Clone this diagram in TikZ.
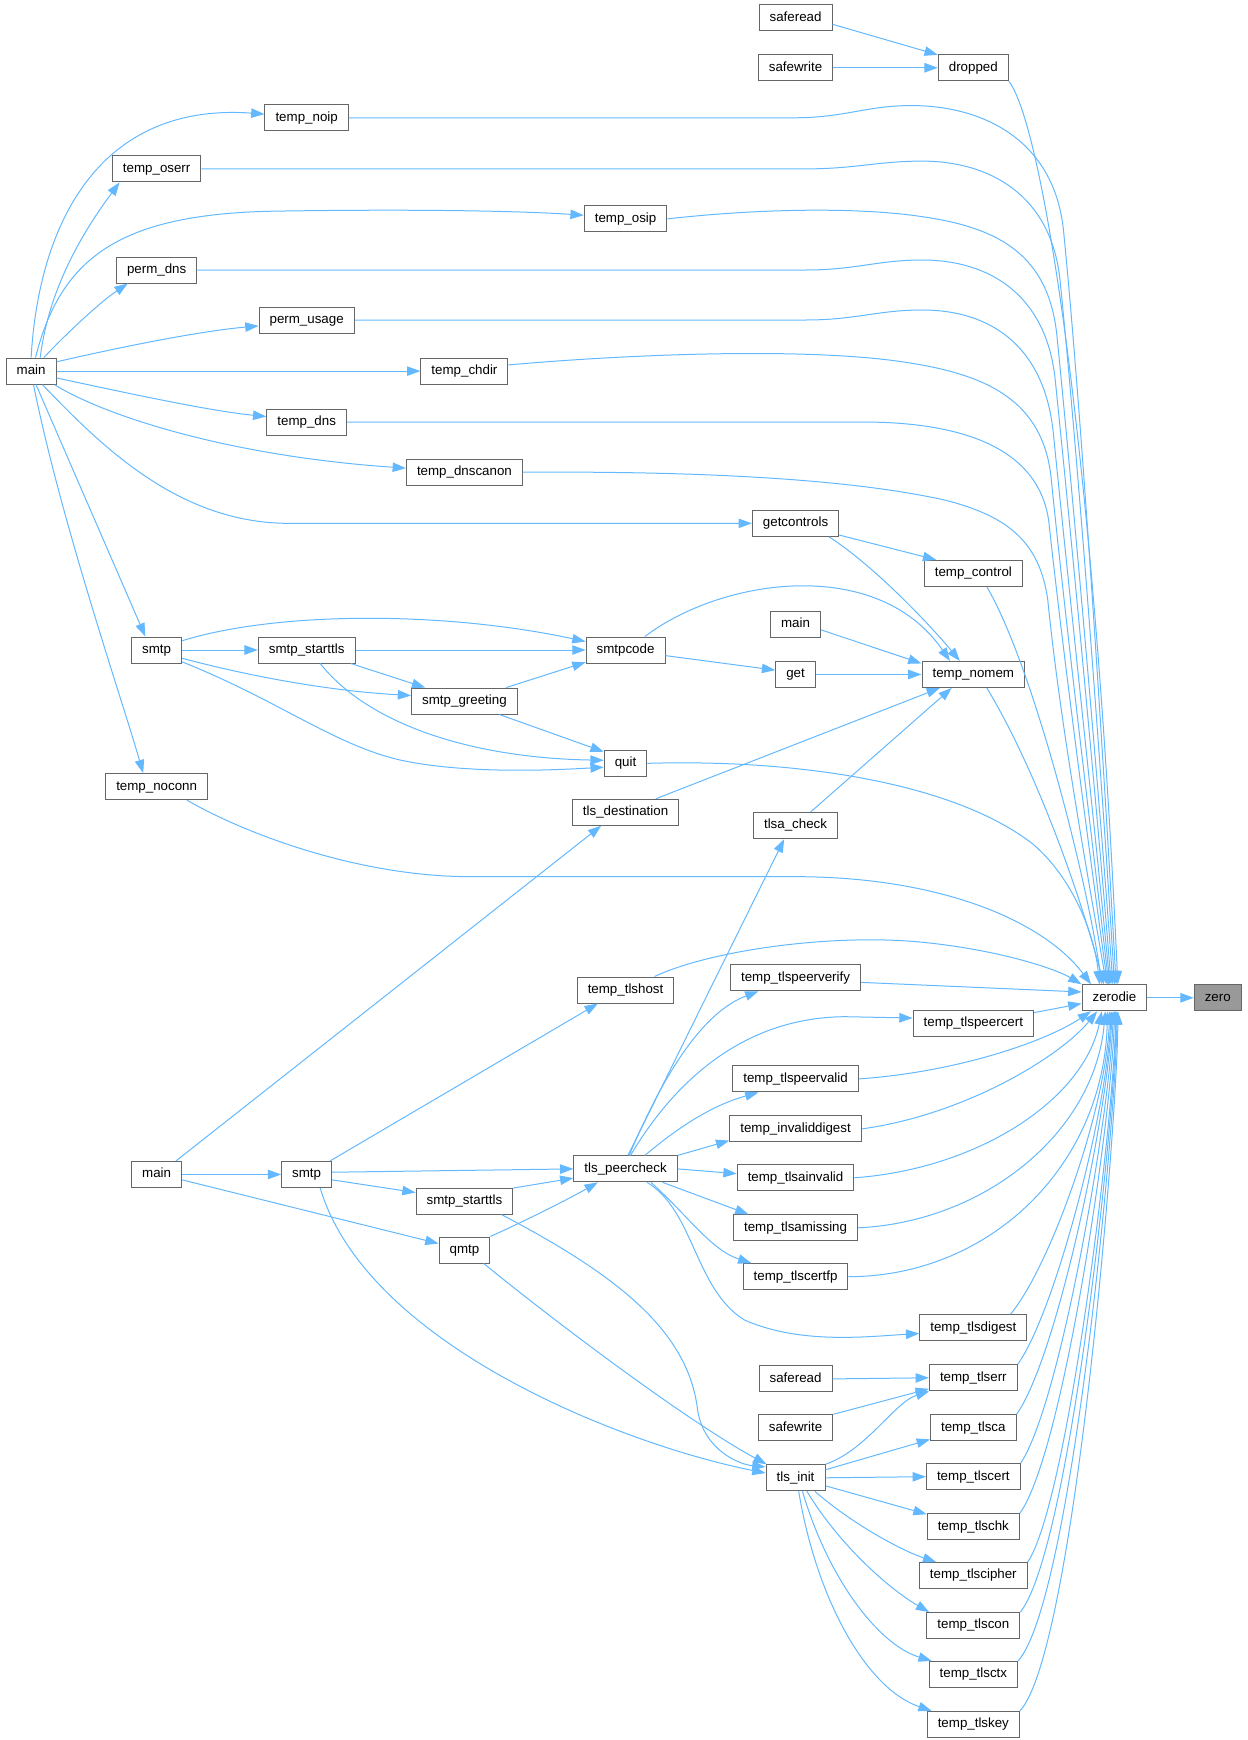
\documentclass[tikz,border=0pt]{standalone}
\usepackage{fontspec}
\setmainfont{Liberation Sans}
\usepackage{tikz}
\usetikzlibrary{arrows.meta}
\definecolor{edgeblue}{HTML}{63B8FF}
\definecolor{framegray}{HTML}{666666}
\definecolor{selgray}{HTML}{999999}

\begin{document}
\begin{tikzpicture}[x=1pt,y=-1pt,
		fn/.style={draw=framegray,fill=white,line width=0.9pt,font=\fontsize{12}{14}\selectfont,
			inner xsep=9.5pt,inner ysep=0pt,minimum height=23.4pt,text height=8.6pt,text depth=2.5pt},
		fnsel/.style={fn,fill=selgray},
		call/.style={->,>={Triangle[length=12pt,width=8.5pt]},draw=edgeblue,line width=0.9pt}]
		\useasboundingbox (0,0) rectangle (1122.3,1566); %余白
		% 関数
		\node[fn] (saferead_a) at (716,16) {saferead};
		\node[fn] (safewrite_a) at (716,61) {safewrite};
		\node[fn] (dropped) at (876,61) {dropped};
		\node[fn] (temp_noip) at (276,106) {temp\_noip};
		\node[fn] (temp_oserr) at (141,152) {temp\_oserr};
		\node[fn] (temp_osip) at (563,197) {temp\_osip};
		\node[fn] (perm_dns) at (141,243) {perm\_dns};
		\node[fn] (perm_usage) at (276,288) {perm\_usage};
		\node[fn] (main_a) at (28,334) {main};
		\node[fn] (temp_chdir) at (418,334) {temp\_chdir};
		\node[fn] (temp_dns) at (276,380) {temp\_dns};
		\node[fn] (temp_dnscanon) at (418,425) {temp\_dnscanon};
		\node[fn] (getcontrols) at (716,471) {getcontrols};
		\node[fn] (temp_control) at (876,516) {temp\_control};
		\node[fn] (main_c) at (716,562) {main};
		\node[fn] (smtp_a) at (141,585) {smtp};
		\node[fn] (starttls_a) at (276,585) {smtp\_starttls};
		\node[fn] (smtpcode) at (563,585) {smtpcode};
		\node[fn] (get) at (716,607) {get};
		\node[fn] (temp_nomem) at (876,607) {temp\_nomem};
		\node[fn] (smtp_greeting) at (418,631) {smtp\_greeting};
		\node[fn] (quit) at (563,687) {quit};
		\node[fn] (temp_noconn) at (141,708) {temp\_noconn};
		\node[fn] (tls_destination) at (563,731) {tls\_destination};
		\node[fn] (tlsa_check) at (716,743) {tlsa\_check};
		\node[fn] (temp_tlspeerverify) at (716,880) {temp\_tlspeerverify};
		\node[fn] (temp_tlshost) at (563,891) {temp\_tlshost};
		\node[fn] (zerodie) at (1003,898) {zerodie};
		\node[fnsel] (zero) at (1096,898) {zero};
		\node[fn] (temp_tlspeercert) at (876,921) {temp\_tlspeercert};
		\node[fn] (temp_tlspeervalid) at (716,971) {temp\_tlspeervalid};
		\node[fn] (temp_invaliddigest) at (716,1016) {temp\_invaliddigest};
		\node[fn] (tls_peercheck) at (563,1052) {tls\_peercheck};
		\node[fn] (main_b) at (141,1057) {main};
		\node[fn] (smtp_b) at (276,1057) {smtp};
		\node[fn] (temp_tlsainvalid) at (716,1060) {temp\_tlsainvalid};
		\node[fn] (starttls_b) at (418,1081) {smtp\_starttls};
		\node[fn] (temp_tlsamissing) at (716,1105) {temp\_tlsamissing};
		\node[fn] (qmtp) at (418,1125) {qmtp};
		\node[fn] (temp_tlscertfp) at (716,1149) {temp\_tlscertfp};
		\node[fn] (temp_tlsdigest) at (876,1195) {temp\_tlsdigest};
		\node[fn] (saferead_b) at (716,1241) {saferead};
		\node[fn] (temp_tlserr) at (876,1240) {temp\_tlserr};
		\node[fn] (safewrite_b) at (716,1285) {safewrite};
		\node[fn] (temp_tlsca) at (876,1285) {temp\_tlsca};
		\node[fn] (tls_init) at (716,1330) {tls\_init};
		\node[fn] (temp_tlscert) at (876,1329) {temp\_tlscert};
		\node[fn] (temp_tlschk) at (876,1374) {temp\_tlschk};
		\node[fn] (temp_tlscipher) at (876,1418) {temp\_tlscipher};
		\node[fn] (temp_tlscon) at (876,1463) {temp\_tlscon};
		\node[fn] (temp_tlsctx) at (876,1507) {temp\_tlsctx};
		\node[fn] (temp_tlskey) at (876,1552) {temp\_tlskey};
		% 呼び出し
		\draw[call] (saferead_a.-10) -- (dropped.160);
		\draw[call] (safewrite_a.east) -- (dropped.west);
		\draw[call] (main_a.north) .. controls (35,200) and (90,92) .. (temp_noip.175);
		\draw[call] (main_a.56) .. controls (45,250) and (85,195) .. (temp_oserr.-160);
		\draw[call] (main_a.72) .. controls (55,230) and (110,192) .. (250,190) .. controls (380,188) and (470,190) .. (temp_osip.175);
		\draw[call] (main_a.47) .. controls (60,300) and (90,272) .. (perm_dns.-155);
		\draw[call] (main_a.20) .. controls (110,312) and (180,298) .. (perm_usage.187);
		\draw[call] (main_a.east) -- (temp_chdir.west);
		\draw[call] (main_a.-15) .. controls (120,355) and (190,370) .. (temp_dns.172);
		\draw[call] (main_a.-30) .. controls (90,372) and (200,410) .. (temp_dnscanon.176);
		\draw[call] (main_a.-50) .. controls (90,400) and (160,471) .. (260,471) -- (getcontrols.west);
		\draw[call] (main_a.-70) -- (smtp_a.130);
		\draw[call] (main_a.-80) .. controls (55,470) and (110,630) .. (temp_noconn.135);
		\draw[call] (getcontrols.-15) -- (temp_control.160);
		\draw[call] (getcontrols.-22) .. controls (785,508) and (835,560) .. (temp_nomem.135);
		\draw[call] (smtpcode.35) .. controls (650,520) and (790,500) .. (temp_nomem.150);
		\draw[call] (main_c.-12) -- (temp_nomem.168);
		\draw[call] (get.east) -- (temp_nomem.west);
		\draw[call] (tls_destination.24) -- (temp_nomem.-158);
		\draw[call] (tlsa_check.42) -- (temp_nomem.-148);
		\draw[call] (smtp_a.east) -- (starttls_a.west);
		\draw[call] (smtp_a.20) .. controls (250,550) and (400,550) .. (smtpcode.168);
		\draw[call] (starttls_a.east) -- (smtpcode.west);
		\draw[call] (starttls_a.-17) -- (smtp_greeting.161);
		\draw[call] (smtp_a.-18) .. controls (230,610) and (300,622) .. (smtp_greeting.174);
		\draw[call] (smtp_greeting.18) -- (smtpcode.-163);
		\draw[call] (smtpcode.-8) -- (get.168);
		\draw[call] (smtp_greeting.-21) -- (quit.152);
		\draw[call] (smtp_a.-25) .. controls (250,630) and (300,670) .. (360,684) .. controls (420,697) and (500,693) .. (quit.190);
		\draw[call] (starttls_a.-45) .. controls (330,650) and (420,682) .. (quit.172);
		\draw[call] (main_b.35) -- (tls_destination.-151);
		\draw[call] (main_b.east) -- (smtp_b.west);
		\draw[call] (main_b.-12) -- (qmtp.166);
		\draw[call] (smtp_b.30) -- (temp_tlshost.-154);
		\draw[call] (smtp_b.5) -- (tls_peercheck.west);
		\draw[call] (smtp_b.-12) -- (starttls_b.170);
		\draw[call] (smtp_b.-45) .. controls (330,1210) and (560,1300) .. (tls_init.171);
		\draw[call] (starttls_b.15) -- (tls_peercheck.190);
		\draw[call] (qmtp.north east) .. controls (470,1100) and (510,1080) .. (tls_peercheck.-154);
		\draw[call] (starttls_b.-20) .. controls (560,1150) and (620,1200) .. (628,1270) .. controls (634,1305) and (665,1318) .. (tls_init.160);
		\draw[call] (qmtp.-35) .. controls (500,1190) and (620,1280) .. (tls_init.155);
		\draw[call] (tls_peercheck.80) -- (tlsa_check.-130);
		\draw[call] (tls_peercheck.75) .. controls (600,960) and (635,910) .. (temp_tlspeerverify.-160);
		\draw[call] (tls_peercheck.70) .. controls (600,985) and (660,916) .. (760,915) -- (temp_tlspeercert.175);
		\draw[call] (tls_peercheck.35) .. controls (610,1015) and (640,995) .. (temp_tlspeervalid.-160);
		\draw[call] (tls_peercheck.north east) -- (temp_invaliddigest.-170);
		\draw[call] (tls_peercheck.east) -- (temp_tlsainvalid.176);
		\draw[call] (tls_peercheck.-20) -- (temp_tlsamissing.164);
		\draw[call] (tls_peercheck.-28) .. controls (620,1095) and (640,1125) .. (temp_tlscertfp.163);
		\draw[call] (tls_peercheck.-32) .. controls (625,1090) and (625,1160) .. (670,1188) .. controls (720,1210) and (780,1203) .. (temp_tlsdigest.186);
		\draw[call] (saferead_b.east) -- (temp_tlserr.west);
		\draw[call] (safewrite_b.north east) -- (temp_tlserr.-166);
		\draw[call] (tls_init.north east) .. controls (780,1305) and (805,1262) .. (temp_tlserr.-163);
		\draw[call] (tls_init.15) -- (temp_tlsca.-165);
		\draw[call] (tls_init.east) -- (temp_tlscert.west);
		\draw[call] (tls_init.-15) -- (temp_tlschk.165);
		\draw[call] (tls_init.-35) .. controls (765,1370) and (810,1395) .. (temp_tlscipher.160);
		\draw[call] (tls_init.-50) .. controls (755,1390) and (800,1430) .. (temp_tlscon.163);
		\draw[call] (tls_init.-63) .. controls (745,1420) and (790,1480) .. (temp_tlsctx.162);
		\draw[call] (tls_init.-77) .. controls (735,1440) and (780,1520) .. (temp_tlskey.162);
		% zerodie へ
		\draw[call] (dropped.south east) .. controls (940,115) and (985,420) .. (zerodie.76);
		\draw[call] (temp_noip.east) -- (715,106) .. controls (760,106) and (780,95) .. (820,95) .. controls (885,95) and (948,126) .. (957,206) .. controls (975,386) and (997,750) .. (zerodie.83);
		\draw[call] (temp_oserr.east) -- (725,152) .. controls (770,152) and (790,145) .. (830,145) .. controls (890,145) and (946,175) .. (954,252) .. controls (972,430) and (995,750) .. (zerodie.90);
		\draw[call] (temp_osip.east) .. controls (680,188) and (770,186) .. (830,195) .. controls (900,205) and (943,230) .. (951,300) .. controls (968,470) and (993,760) .. (zerodie.97);
		\draw[call] (perm_dns.east) -- (725,243) .. controls (770,243) and (790,234) .. (830,234) .. controls (890,234) and (943,265) .. (950,345) .. controls (966,500) and (991,770) .. (zerodie.104);
		\draw[call] (perm_usage.east) -- (725,288) .. controls (770,288) and (790,279) .. (830,279) .. controls (890,279) and (940,310) .. (948,390) .. controls (963,540) and (989,780) .. (zerodie.109);
		\draw[call] (temp_chdir.8) .. controls (540,321) and (700,312) .. (800,324) .. controls (880,334) and (938,355) .. (946,430) .. controls (960,570) and (987,790) .. (zerodie.113);
		\draw[call] (temp_dns.east) -- (790,380) .. controls (860,382) and (935,400) .. (944,470) .. controls (958,600) and (985,800) .. (zerodie.117);
		\draw[call] (temp_dnscanon.east) .. controls (620,424) and (760,430) .. (850,450) .. controls (910,465) and (936,490) .. (943,540) .. controls (955,660) and (983,810) .. (zerodie.121);
		\draw[call] (temp_control.-45) .. controls (930,600) and (978,790) .. (zerodie.133);
		\draw[call] (temp_nomem.-45) .. controls (925,680) and (965,780) .. (zerodie.128);
		\draw[call] (quit.east) .. controls (720,683) and (860,705) .. (930,760) .. controls (965,790) and (985,840) .. (zerodie.138);
		\draw[call] (temp_noconn.-24) .. controls (220,750) and (320,788) .. (420,789) -- (720,789) .. controls (850,790) and (940,830) .. (zerodie.150);
		\draw[call] (temp_tlshost.25) .. controls (640,855) and (750,840) .. (830,848) .. controls (900,855) and (950,872) .. (zerodie.north west);
		\draw[call] (temp_tlspeerverify.-4) -- (zerodie.170);
		\draw[call] (temp_tlspeercert.10) -- (zerodie.190);
		\draw[call] (temp_tlspeervalid.east) .. controls (860,965) and (940,938) .. (zerodie.-150);
		\draw[call] (temp_invaliddigest.east) .. controls (870,1003) and (955,950) .. (zerodie.-142);
		\draw[call] (temp_tlsainvalid.east) .. controls (880,1052) and (975,990) .. (zerodie.-133);
		\draw[call] (temp_tlsamissing.east) .. controls (885,1100) and (985,1020) .. (zerodie.-124);
		\draw[call] (temp_tlscertfp.east) .. controls (890,1149) and (993,1050) .. (zerodie.-117);
		\draw[call] (temp_tlsdigest.20) .. controls (945,1140) and (995,1000) .. (zerodie.-109);
		\draw[call] (temp_tlserr.north east) .. controls (950,1180) and (996,1000) .. (zerodie.-104);
		\draw[call] (temp_tlsca.north east) .. controls (952,1220) and (997,1000) .. (zerodie.-100);
		\draw[call] (temp_tlscert.north east) .. controls (955,1262) and (999,1000) .. (zerodie.-95);
		\draw[call] (temp_tlschk.north east) .. controls (958,1305) and (1001,1000) .. (zerodie.-90);
		\draw[call] (temp_tlscipher.north east) .. controls (962,1350) and (1003,1000) .. (zerodie.-85);
		\draw[call] (temp_tlscon.north east) .. controls (963,1395) and (1004,1000) .. (zerodie.-83);
		\draw[call] (temp_tlsctx.north east) .. controls (965,1440) and (1005,1000) .. (zerodie.-80);
		\draw[call] (temp_tlskey.north east) .. controls (968,1485) and (1006,1000) .. (zerodie.-76);
		\draw[call] (zerodie.east) -- (zero.west);
	\end{tikzpicture}
\end{document}
